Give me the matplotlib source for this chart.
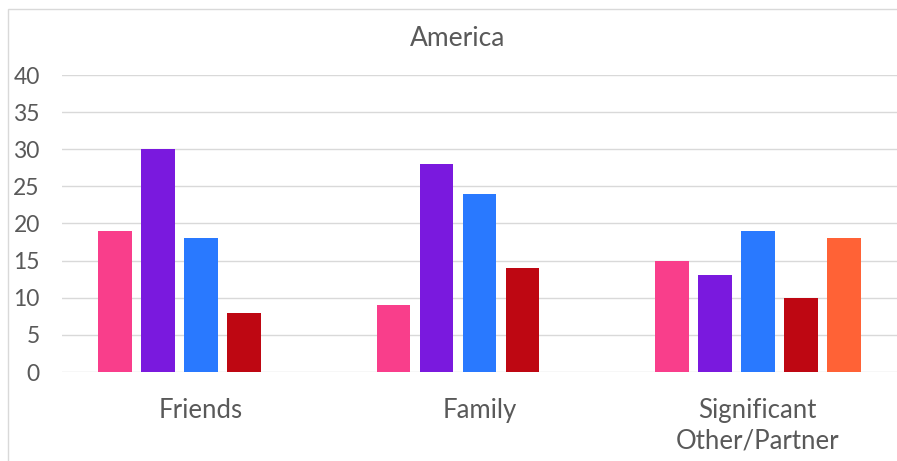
import numpy as np
import matplotlib
matplotlib.use("Agg")
import matplotlib.pyplot as plt
from matplotlib.patches import Rectangle

CATEGORIES = ["Friends", "Family", "Significant\nOther/Partner"]
SERIES_1 = [19, 9, 15]
SERIES_2 = [30, 28, 13]
SERIES_3 = [18, 24, 19]
SERIES_4 = [8, 14, 10]
SERIES_5 = [0, 0, 18]
COLORS = ["#F93E8B", "#7A19DE", "#2979FF", "#BE0712", "#FF6236"]
YTICKS = [0, 5, 10, 15, 20, 25, 30, 35, 40]

TEXT = "#595959"
GRID = "#D9D9D9"


def main():
    plt.rcParams["font.family"] = ["Lato", "DejaVu Sans"]
    fig = plt.figure(figsize=(8.97, 4.61), dpi=100)
    W, H = 897, 461
    ax = fig.add_axes([62 / W, (H - 372) / H, 1 - 62 / W, (372 - 75) / H])

    series = [SERIES_1, SERIES_2, SERIES_3, SERIES_4, SERIES_5]
    x = np.arange(len(CATEGORIES))
    pitch = 0.1545
    width = 0.122
    for i, (vals, col) in enumerate(zip(series, COLORS)):
        ax.bar(x + (i - 2) * pitch, vals, width, color=col, zorder=3)

    ax.set_xlim(-0.5, 2.5)
    ax.set_ylim(0, 40)
    ax.set_yticks(YTICKS)
    ax.set_xticks(x)
    ax.set_xticklabels(CATEGORIES, fontsize=18.5, color=TEXT, linespacing=1.3)
    ax.tick_params(axis="y", labelsize=16.5, labelcolor=TEXT, length=0, pad=16)
    ax.tick_params(axis="x", length=0, pad=18.5)
    ax.grid(axis="y", color=GRID, lw=1, zorder=0)
    for s in ax.spines.values():
        s.set_visible(False)

    fig.text(458 / W, 1 - 38 / H, "America", ha="center", va="center",
             fontsize=19, color=TEXT)
    fig.patches.append(Rectangle((8 / W, -0.1), 1.2, 1 - 9 / H + 0.1,
                                 transform=fig.transFigure, fill=False,
                                 ec="#D9D9D9", lw=1))
    fig.savefig("out.png", dpi=100)


if __name__ == "__main__":
    main()
